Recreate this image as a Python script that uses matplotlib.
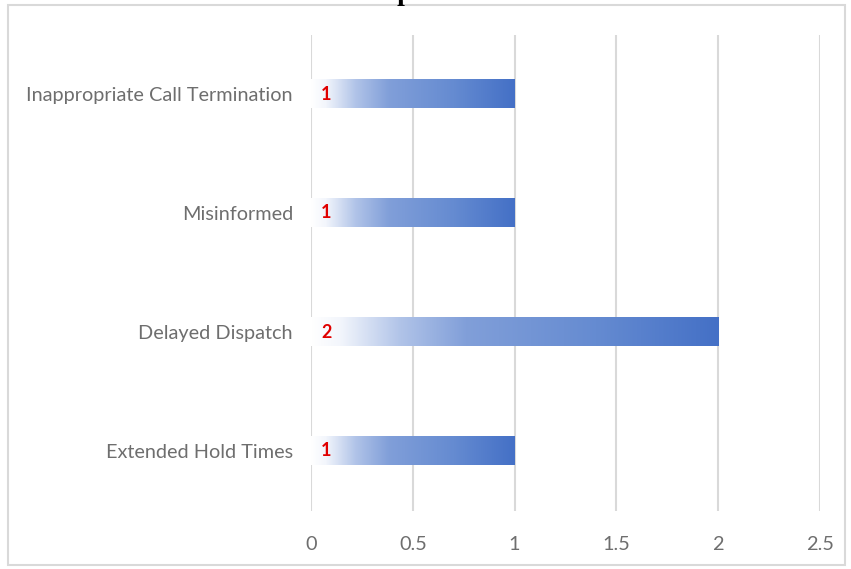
# Complaint counts by type - horizontal bars with a white-to-blue fade

import matplotlib.pyplot as plt
import numpy as np
from matplotlib.colors import LinearSegmentedColormap
from matplotlib.patches import Rectangle

categories = ['Extended Hold Times', 'Delayed Dispatch', 'Misinformed',
              'Inappropriate Call Termination']
counts = [1, 2, 1, 1]
x_ticks = [0, 0.5, 1, 1.5, 2, 2.5]
x_tick_labels = ['0', '0.5', '1', '1.5', '2', '2.5']

fade = LinearSegmentedColormap.from_list('fade', [
    (0.0, '#ffffff'), (0.07, '#f3f6fc'), (0.22, '#b0c3e8'),
    (0.38, '#819fd9'), (0.7, '#658bd1'), (1.0, '#4470c6')])

fig = plt.figure(figsize=(8.51, 5.69), dpi=100)
fig.patch.set_facecolor('white')

# light frame around the chart block
fig.patches.append(Rectangle((8 / 851, 1 - 565 / 569), 837 / 851, 560 / 569,
                             transform=fig.transFigure, fill=False,
                             edgecolor='#d9d9d9', linewidth=1.5))
# heading sits above the frame, mostly off the top edge
fig.text(409 / 851, 1 - 0.5 / 569, 'Complaints', ha='center', va='baseline',
         fontsize=20, fontweight='bold', family='Liberation Serif')

ax = fig.add_axes([311 / 851, 1 - 510.5 / 569, 509 / 851, 476 / 569])

bar_h = 0.24
ramp = np.linspace(0, 1, 256).reshape(1, -1)
for i, val in enumerate(counts):
    ax.imshow(ramp, cmap=fade, aspect='auto', interpolation='bilinear',
              extent=[0, val, i - bar_h / 2, i + bar_h / 2], zorder=2)
    ax.text(0.05, i, str(val), color='#e00000', fontsize=13,
            fontweight='bold', family='Lato', va='center', ha='left',
            zorder=3)

ax.set_xlim(0, 2.5)
ax.set_ylim(-0.5, len(categories) - 0.5)
ax.set_xticks(x_ticks)
ax.set_xticklabels(x_tick_labels)
ax.set_yticks(range(len(categories)))
ax.set_yticklabels(categories)
ax.tick_params(length=0, labelsize=14.3)
ax.tick_params(axis='x', pad=18)
ax.tick_params(axis='y', pad=13)
for lbl in ax.get_xticklabels() + ax.get_yticklabels():
    lbl.set_family('Lato')
    lbl.set_color('#6e6e6e')

ax.grid(axis='x', color='#d9d9d9', linewidth=1.5, zorder=0)
ax.set_axisbelow(True)
for s in ax.spines.values():
    s.set_visible(False)

plt.savefig('out.png', dpi=100)
